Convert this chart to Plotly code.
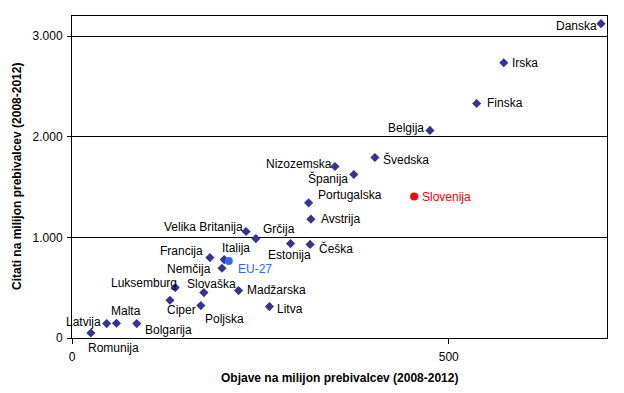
import plotly.graph_objects as go

countries = ["Danska", "Irska", "Finska", "Belgija", "Švedska", "Nizozemska", "Španija",
             "Portugalska", "Avstrija", "Češka", "Estonija", "Grčija", "Velika Britanija",
             "Francija", "Italija", "Nemčija", "Luksemburg", "Slovaška", "Madžarska", "Ciper",
             "Poljska", "Litva", "Latvija", "Malta", "Bolgarija", "Romunija"]
objave = [702, 573, 537, 475, 402, 349, 374, 314, 317, 316, 290, 244, 231,
          183, 202, 199, 137, 175, 221, 130, 171, 262, 46, 59, 86, 25]
citati = [3124, 2736, 2331, 2063, 1794, 1705, 1625, 1343, 1181, 930, 938, 988, 1058,
          799, 779, 693, 501, 451, 471, 375, 322, 312, 143, 146, 143, 50]

slo_name, slo_x, slo_y = "Slovenija", 454, 1406
eu_name, eu_x, eu_y = "EU-27", 208, 766

# label placement (style only): anchor side, pixel offsets from the marker
label_anchor = ["right", "left", "left", "right", "left", "right", "right", "left", "left",
                "left", "center", "left", "right", "right", "left", "right", "right", "left",
                "left", "left", "left", "left", "right", "left", "left", "left"]
label_dx = [-3, 7, 9, -5, 7, -2, -5, 8, 9, 8, -1, 6, -2, -6, -3, -10, 3, -18, 7, -4, 3, 7, -5, -6, 7, -4]
label_dy = [-2, 0, 0, 2, -2, 2, -4, 8, 0, -4, -11, 10, 5, 7, 12, -1, 5, 9, 1, -10, -13, -2, 2, 12, -6, -15]

font = "Arial, Liberation Sans, sans-serif"

fig = go.Figure()
fig.add_trace(go.Scatter(
    x=objave, y=citati, mode="markers",
    marker=dict(symbol="diamond", size=7, color="#333399"),
    cliponaxis=False, showlegend=False, hovertext=countries))
fig.add_trace(go.Scatter(
    x=[slo_x], y=[slo_y], mode="markers",
    marker=dict(symbol="circle", size=8, color="#FF0000"),
    cliponaxis=False, showlegend=False, hovertext=[slo_name]))
fig.add_trace(go.Scatter(
    x=[eu_x], y=[eu_y], mode="markers",
    marker=dict(symbol="circle", size=8, color="#3366FF"),
    cliponaxis=False, showlegend=False, hovertext=[eu_name]))

annotations = []
for name, xv, yv, anc, dx, dy in zip(countries, objave, citati, label_anchor, label_dx, label_dy):
    annotations.append(dict(text=name, x=xv, y=yv, xref="x", yref="y", showarrow=False,
                            xanchor=anc, yanchor="middle", xshift=dx, yshift=dy, borderpad=0,
                            font=dict(family=font, size=12, color="black")))
annotations.append(dict(text=slo_name, x=slo_x, y=slo_y, xref="x", yref="y", showarrow=False,
                        xanchor="left", yanchor="middle", xshift=7, yshift=0, borderpad=0,
                        font=dict(family=font, size=12, color="#FF0000")))
annotations.append(dict(text=eu_name, x=eu_x, y=eu_y, xref="x", yref="y", showarrow=False,
                        xanchor="left", yanchor="middle", xshift=8, yshift=-8, borderpad=0,
                        font=dict(family=font, size=12, color="#3366FF")))
annotations.append(dict(text="<b>Objave na milijon prebivalcev (2008-2012)</b>", xref="paper",
                        yref="paper", x=0.5, y=0, yshift=-40, showarrow=False,
                        font=dict(family=font, size=12), yanchor="middle"))
annotations.append(dict(text="<b>Citati na milijon prebivalcev (2008-2012)</b>", xref="paper",
                        yref="paper", x=0, xshift=-55, y=0.5, showarrow=False, textangle=-90,
                        font=dict(family=font, size=12), xanchor="center"))

fig.update_layout(
    width=608, height=377, margin=dict(l=64, r=9, t=8, b=47),
    paper_bgcolor="white", plot_bgcolor="white", separators=",.",
    font=dict(family=font, size=12, color="black"),
    xaxis=dict(range=[0, 710], tickvals=[0, 500], ticks="outside", ticklen=5, tickcolor="black",
               showgrid=False, zeroline=False, showline=True, mirror=True, linecolor="black",
               linewidth=1, ticklabelstandoff=3),
    yaxis=dict(range=[0, 3200], tickvals=[0, 1000, 2000, 3000], tickformat=",", ticks="outside",
               ticklen=4, tickcolor="black", showgrid=True, gridcolor="black", gridwidth=1,
               zeroline=False, showline=True, mirror=True, linecolor="black", linewidth=1,
               ticklabelstandoff=2),
    annotations=annotations,
)
fig.write_html("out.html")
